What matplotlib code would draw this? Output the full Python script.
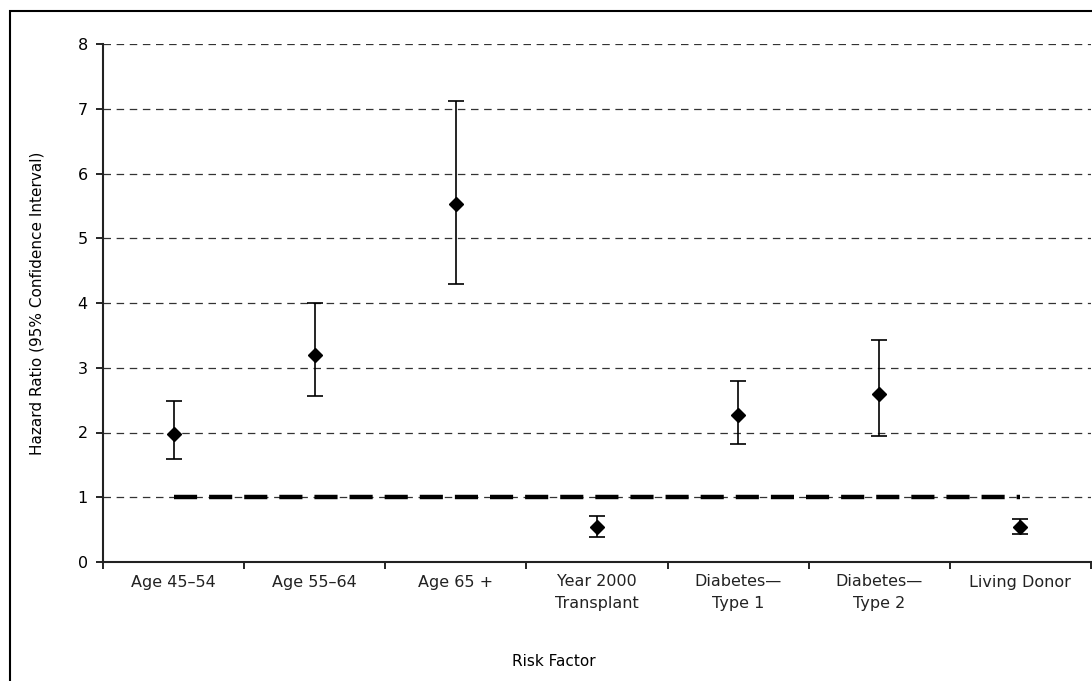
import numpy as np
import matplotlib.pyplot as plt
from matplotlib.patches import Rectangle

# hazard ratios with 95% confidence limits per risk factor
factors = ['Age 45\u201354', 'Age 55\u201364', 'Age 65 +', 'Year 2000\nTransplant',
           'Diabetes\u2014\nType 1', 'Diabetes\u2014\nType 2', 'Living Donor']
hazard = [1.98, 3.20, 5.53, 0.54, 2.27, 2.59, 0.54]
ci_low = [1.59, 2.56, 4.30, 0.39, 1.83, 1.95, 0.43]
ci_high = [2.48, 4.00, 7.12, 0.71, 2.80, 3.43, 0.66]
y_ticks = [0, 1, 2, 3, 4, 5, 6, 7, 8]
reference = 1.0

plt.rcParams['font.family'] = 'DejaVu Sans'
fig = plt.figure(figsize=(10.92, 6.81), dpi=100)
ax = fig.add_axes([103 / 1092, 1 - 562 / 681, 988 / 1092, 518 / 681])

pos = np.arange(len(factors)) + 0.5
hz = np.array(hazard)
err = np.vstack([hz - np.array(ci_low), np.array(ci_high) - hz])

# no-effect line at HR = 1
ax.plot([pos[0], pos[-1]], [reference, reference], color='black', lw=3.2,
        dashes=(5.2, 2.7), solid_capstyle='butt', zorder=2)

ax.errorbar(pos, hz, yerr=err, fmt='D', color='black', ms=7,
            elinewidth=1.2, capsize=6, capthick=1.2, zorder=3)

ax.set_xlim(0, len(factors))
ax.set_ylim(0, 8)
ax.set_yticks(y_ticks)
ax.set_xticks(np.arange(len(factors) + 1))
ax.set_xticklabels([])
ax.set_xticks(pos, minor=True)
ax.set_xticklabels(factors, minor=True, fontsize=11.5, linespacing=1.55,
                   color='#222222')
ax.tick_params(axis='x', which='minor', length=0, pad=9)
ax.tick_params(axis='x', which='major', length=5, width=1.2, direction='out')
ax.tick_params(axis='y', length=5, width=1.2, labelsize=11.5, pad=6)

for y in y_ticks[1:]:
    ax.axhline(y, color='#333333', lw=0.9, dashes=(6, 4.5), zorder=1)

for side in ['top', 'right']:
    ax.spines[side].set_visible(False)
for side in ['left', 'bottom']:
    ax.spines[side].set_linewidth(1.5)
    ax.spines[side].set_color('#222222')

ax.set_ylabel('Hazard Ratio (95% Confidence Interval)', fontsize=11, labelpad=24)
fig.text(554 / 1092, 1 - 661 / 681, 'Risk Factor', fontsize=11, ha='center', va='center')

# outer frame around the chart
fig.patches.append(Rectangle((10 / 1092, -0.1), 1.2, 1.1 - 11 / 681,
                             transform=fig.transFigure, fill=False,
                             edgecolor='black', lw=1.5, clip_on=False))

fig.savefig('out.png', dpi=100)
